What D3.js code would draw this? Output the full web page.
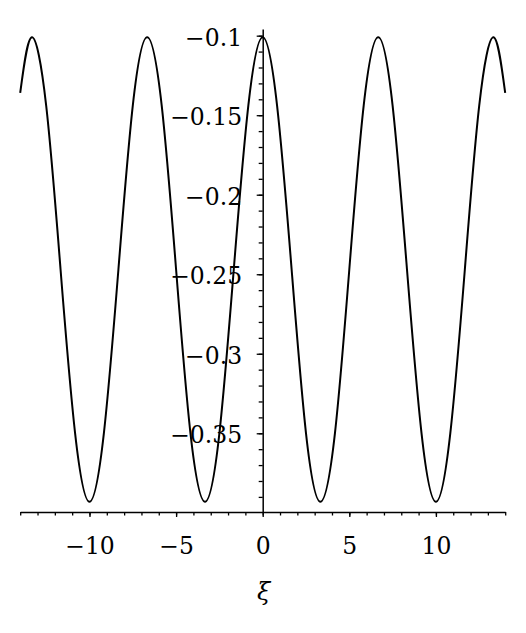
<!DOCTYPE html>
<html>
<head>
  <meta charset="UTF-8">
  <script src="https://d3js.org/d3.v7.min.js"></script>
  <style>
    body { margin: 0; background: #fff; }
    text { font-family: "DejaVu Serif", serif; }
  </style>
</head>
<body>
  <script>
    // curve, one point about every 1/8 of a period
    var xiValues = [-14, -13.33, -12.5, -11.67, -10.83, -10, -9.17, -8.33, -7.5,
      -6.67, -5.83, -5, -4.17, -3.33, -2.5, -1.67, -0.83, 0, 0.83, 1.67, 2.5,
      3.33, 4.17, 5, 5.83, 6.67, 7.5, 8.33, 9.17, 10, 10.83, 11.67, 12.5, 13.33, 14];
    var yValues = [-0.136, -0.101, -0.144, -0.247, -0.350, -0.393, -0.350, -0.247,
      -0.144, -0.101, -0.144, -0.247, -0.350, -0.393, -0.350, -0.247, -0.144,
      -0.101, -0.144, -0.247, -0.350, -0.393, -0.350, -0.247, -0.144, -0.101,
      -0.144, -0.247, -0.350, -0.393, -0.350, -0.247, -0.144, -0.101, -0.136];

    // ticks
    var xMajorTicks = [-10, -5, 0, 5, 10];
    var xMinorTicks = d3.range(-14, 15);
    var yMajorTicks = [-0.1, -0.15, -0.2, -0.25, -0.3, -0.35];
    var yMinorTicks = d3.range(-39, -9).map(function(d) { return d / 100; });
    var xLabel = "ξ";

    var width = 526;
    var height = 633;

    var svg = d3.select("body")
      .append("svg")
      .attr("width", width)
      .attr("height", height);

    var x = d3.scaleLinear().domain([-14, 14]).range([20.2, 505.2]);
    var y = d3.scaleLinear().domain([-0.3995, -0.0958]).range([512, 29]);

    var fmt = d3.format(".2~f");
    var fontSize = 23.5;

    // x axis: line + minor ticks, then major ticks with labels
    var xAxisMinor = svg.append("g")
      .attr("transform", "translate(0," + y.range()[0] + ")")
      .call(d3.axisBottom(x).tickValues(xMinorTicks).tickFormat("")
        .tickSizeInner(3.5).tickSizeOuter(0));

    var xAxisMajor = svg.append("g")
      .attr("transform", "translate(0," + y.range()[0] + ")")
      .call(d3.axisBottom(x).tickValues(xMajorTicks).tickFormat(fmt)
        .tickSizeInner(5).tickSizeOuter(0).tickPadding(20));
    xAxisMajor.select(".domain").remove();

    // y axis at xi = 0
    var yAxisMinor = svg.append("g")
      .attr("transform", "translate(" + x(0) + ",0)")
      .call(d3.axisLeft(y).tickValues(yMinorTicks).tickFormat("")
        .tickSizeInner(4).tickSizeOuter(0));

    var yAxisMajor = svg.append("g")
      .attr("transform", "translate(" + x(0) + ",0)")
      .call(d3.axisLeft(y).tickValues(yMajorTicks).tickFormat(fmt)
        .tickSizeInner(6).tickSizeOuter(0).tickPadding(14.5));
    yAxisMajor.select(".domain").remove();
    yAxisMajor.selectAll("text").attr("dy", "0.4em");

    svg.selectAll(".domain").attr("stroke-width", 1.5).attr("stroke", "#000");
    svg.selectAll(".tick line").attr("stroke-width", 1.3).attr("stroke", "#000");
    svg.selectAll(".tick text")
      .attr("fill", "#000")
      .style("font-family", "'DejaVu Serif', serif")
      .style("font-size", fontSize + "px");

    // axis title
    svg.append("text")
      .attr("x", x(0) + 1)
      .attr("y", 600)
      .attr("text-anchor", "middle")
      .style("font-size", "24px")
      .style("font-style", "italic")
      .text(xLabel);

    // the curve
    var points = xiValues.map(function(d, i) { return [d, yValues[i]]; });
    var line = d3.line()
      .x(function(d) { return x(d[0]); })
      .y(function(d) { return y(d[1]); })
      .curve(d3.curveNatural);

    svg.append("path")
      .datum(points)
      .attr("d", line)
      .attr("fill", "none")
      .attr("stroke", "#000")
      .attr("stroke-width", 2);
  </script>
</body>
</html>
